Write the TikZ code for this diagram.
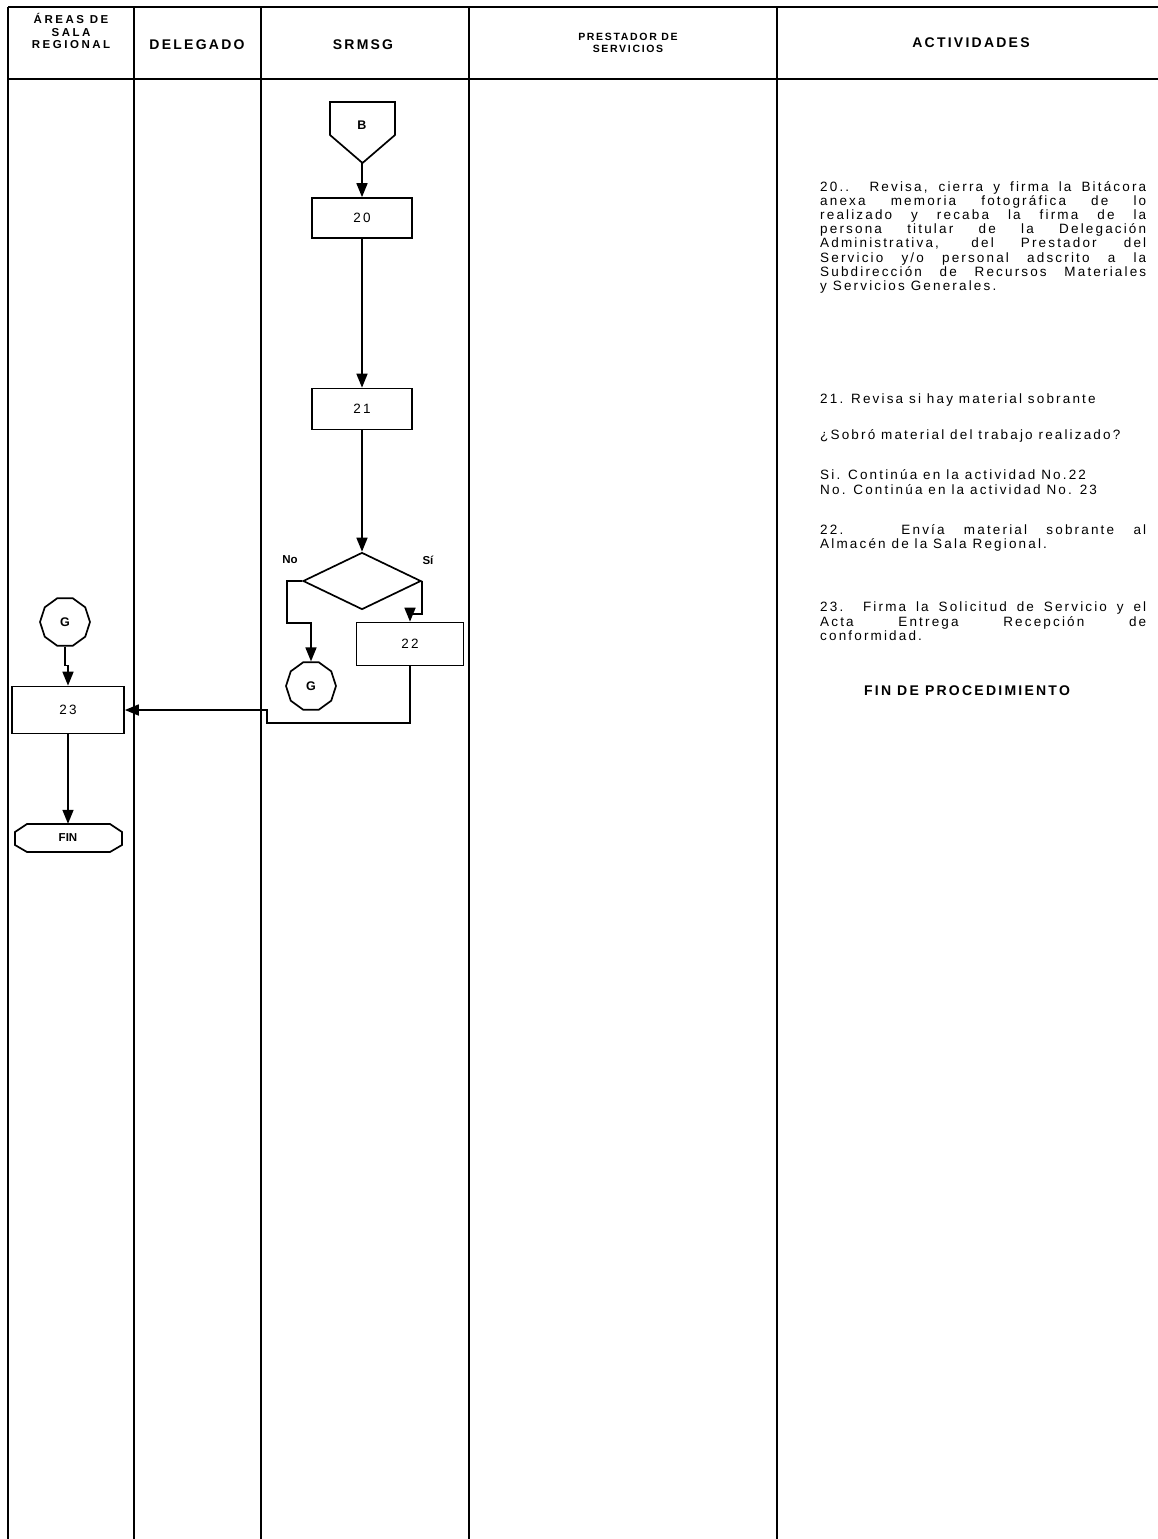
\documentclass[tikz,border=0pt]{standalone}
\usepackage{fontspec}
\setmainfont{Liberation Sans}
\newfontfamily\bodyfont[LetterSpace=16]{Liberation Sans}
\newfontfamily\headfont[LetterSpace=16]{Liberation Sans}
\newfontfamily\areafont[LetterSpace=22]{Liberation Sans}
\usetikzlibrary{arrows.meta,positioning,shapes.geometric}

\begin{document}
\lineskiplimit=-20pt
\begin{tikzpicture}[x=1pt,y=-1pt,
  >={Triangle[length=14pt,width=11pt]},
  lane/.style={line width=1.8pt},
  flow/.style={draw,line width=1.7pt,->},
  outline/.style={draw,line width=1.7pt,line join=miter},
  head/.style={align=center,inner sep=0pt,
    font=\headfont\bfseries\fontsize{14}{12.5}\selectfont},
  smallhead/.style={align=center,inner sep=0pt,
    font=\headfont\bfseries\fontsize{10.5}{12}\selectfont},
  stepbox/.style={draw,line width=1.7pt,minimum width=100pt,minimum height=40pt,
    inner sep=0pt,font=\bodyfont\fontsize{13.5}{14}\selectfont},
  decision/.style={draw,diamond,aspect=2,line width=1.7pt,inner sep=0pt,
    minimum width=118pt,minimum height=57pt},
  connector/.style={draw,regular polygon,regular polygon sides=10,line width=1.7pt,
    minimum size=50pt,inner sep=0pt,font=\bfseries\fontsize{12.5}{13}\selectfont},
  tag/.style={inner sep=0pt,font=\bfseries\fontsize{11.5}{13}\selectfont},
  activity/.style={anchor=north west,inner sep=0pt,text width=326pt,align=justify,
    font=\bodyfont\fontsize{13.5}{14.2}\selectfont},
  activityleft/.style={anchor=north west,inner sep=0pt,align=left,
    font=\bodyfont\fontsize{13.5}{15}\selectfont}]
\useasboundingbox (0,0) rectangle (1158,1539);

% swimlane frame
\draw[lane] (8,7) -- (1158,7);
\draw[lane] (8,79) -- (1158,79);
\foreach \x in {8,134,261,469,777}
  \draw[lane] (\x,7) -- (\x,1539);

% lane headers
\node[head,font=\areafont\bfseries\fontsize{11.5}{12.8}\selectfont] (hareas) at (71,31)
  {ÁREAS DE\\SALA\\REGIONAL};
\node[head] (hdelegado) at (197,45) {DELEGADO};
\node[head] (hsrmsg) at (363,45) {SRMSG};
\node[smallhead] (hprestador) at (628,43) {PRESTADOR DE\\SERVICIOS};
\node[head] (hactividades) at (971,43) {ACTIVIDADES};

% off-page connector B
\draw[outline] (330,102) -- (395,102) -- (395,135) -- (362.5,163) -- (330,135) -- cycle;
\node[tag,font=\bfseries\fontsize{12.5}{13}\selectfont] (offB) at (362,125) {B};
\coordinate (offBtip) at (362,163);

% steps
\node[stepbox] (n20) at (362,218) {20};
\node[stepbox,minimum height=41pt] (n21) at (362,409) {21};
\node[decision] (dec) at (362,581) {};
\node[tag] (lno) at (290,560) {No};
\node[tag] (lsi) at (428,560) {Sí};
\node[stepbox,minimum width=107pt,minimum height=43pt] (n22) at (410,644) {22};
\node[connector] (gB) at (311,686) {G};
\node[connector] (gA) at (65,622) {G};
\node[stepbox,minimum width=112pt,minimum height=47pt] (n23) at (68,710) {23};

% terminator
\draw[outline] (27,824) -- (110,824) -- (122,832) -- (122,845) -- (110,852)
  -- (27,852) -- (15,845) -- (15,832) -- cycle;
\node[tag,minimum width=107pt,minimum height=28pt] (fin) at (68,838) {FIN};

% connectors
\coordinate (jog) at (267,723);
\draw[flow] (offBtip) -- (n20);
\draw[flow] (n20) -- (n21);
\draw[flow] (n21) -- (dec);
\draw[flow] (dec.west) -- ++(-15,0) -- ++(0,42) -| (gB.north);
\draw[flow] (dec.east) -- ++(0,33) -| (n22.north);
\draw[flow] (n22.south) |- (jog) |- (n23.east);
\draw[flow] (gA.south) -- ++(0,19) -| (n23.north);
\draw[flow] (n23) -- (fin);

% activities
\node[activity] (a20) at (820,181)
  {20.. Revisa, cierra y firma la Bitácora\linebreak
   anexa memoria fotográfica de lo\linebreak
   realizado y recaba la firma de la\linebreak
   persona titular de la Delegación\linebreak
   Administrativa, del Prestador del\linebreak
   Servicio y/o personal adscrito a la\linebreak
   Subdirección de Recursos Materiales\linebreak
   y Servicios Generales.};
\node[activityleft] (a21) at (820,394) {21. Revisa si hay material sobrante};
\node[activityleft] (aq) at (820,429) {¿Sobró material del trabajo realizado?};
\node[activityleft] (asino) at (820,469)
  {Si. Continúa en la actividad No.22\\No. Continúa en la actividad No. 23};
\node[activity] (a22) at (820,524)
  {22.\ \ \ Envía material sobrante al\linebreak
   Almacén de la Sala Regional.};
\node[activity] (a23) at (820,602)
  {23. Firma la Solicitud de Servicio y el\linebreak
   Acta Entrega Recepción de\linebreak
   conformidad.};
\node[head] (afin) at (967,691) {FIN DE PROCEDIMIENTO};
\end{tikzpicture}
\end{document}
